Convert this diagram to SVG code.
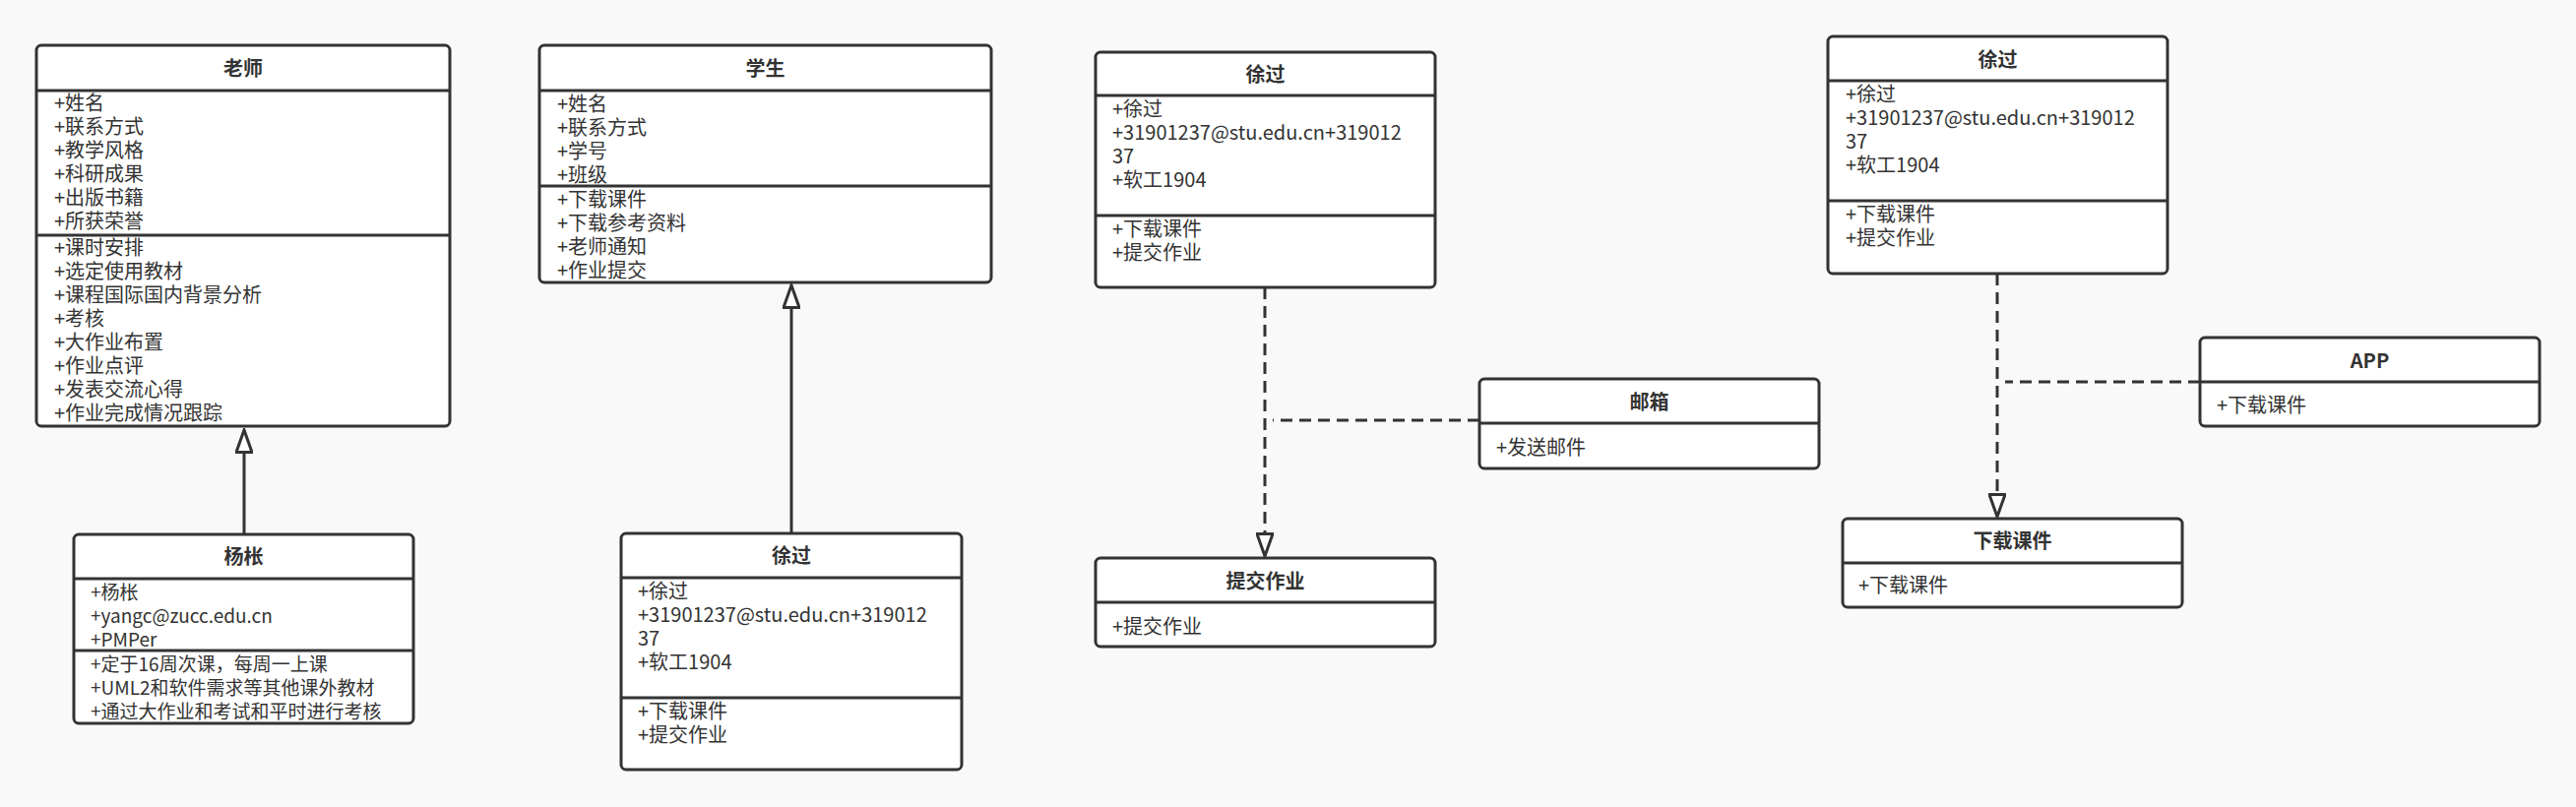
<svg xmlns="http://www.w3.org/2000/svg" width="2617" height="820" viewBox="0 0 2617 820">
<defs>
<style>
.box{fill:#ffffff;stroke:#333333;stroke-width:3}
.div{stroke:#333333;stroke-width:3;fill:none}
.t{font-family:"Noto Sans CJK SC","Noto Sans",sans-serif;font-size:20px;fill:#333333}
.s{font-size:19px}
.h{font-family:"Noto Sans CJK SC","Noto Sans",sans-serif;font-size:20px;font-weight:bold;fill:#333333;text-anchor:middle}
.edge{stroke:#333333;stroke-width:3;fill:none}
.dash{stroke-dasharray:12 7}
</style>
<marker id="tri" viewBox="0 0 26 18" refX="24" refY="9" markerWidth="26" markerHeight="18" markerUnits="userSpaceOnUse" orient="auto">
<path d="M1.5,1 L24,9 L1.5,17 Z" fill="#ffffff" stroke="#333333" stroke-width="3" stroke-linejoin="miter"/>
</marker>
</defs>
<rect x="0" y="0" width="2617" height="820" fill="#f9f9f9"/>

<g id="connectors">
<path class="edge" d="M248,543 L248,437" marker-end="url(#tri)"/>
<path class="edge" d="M804,542 L804,290" marker-end="url(#tri)"/>
<path class="edge dash" d="M1285,292 L1285,565" marker-end="url(#tri)"/>
<path class="edge dash" d="M1503,427 L1293,427"/>
<path class="edge dash" d="M2029,278 L2029,525" marker-end="url(#tri)"/>
<path class="edge dash" d="M2235,388 L2037,388"/>
</g>

<g id="teacher">
<rect class="box" x="37" y="46" width="420" height="387" rx="5"/>
<line class="div" x1="37" y1="92" x2="457" y2="92"/>
<line class="div" x1="37" y1="239" x2="457" y2="239"/>
<text class="h" x="247" y="77">老师</text>
<text class="t" x="55" y="112">+姓名</text>
<text class="t" x="55" y="136">+联系方式</text>
<text class="t" x="55" y="160">+教学风格</text>
<text class="t" x="55" y="184">+科研成果</text>
<text class="t" x="55" y="208">+出版书籍</text>
<text class="t" x="55" y="232">+所获荣誉</text>
<text class="t" x="55" y="259">+课时安排</text>
<text class="t" x="55" y="283">+选定使用教材</text>
<text class="t" x="55" y="307">+课程国际国内背景分析</text>
<text class="t" x="55" y="331">+考核</text>
<text class="t" x="55" y="355">+大作业布置</text>
<text class="t" x="55" y="379">+作业点评</text>
<text class="t" x="55" y="403">+发表交流心得</text>
<text class="t" x="55" y="427">+作业完成情况跟踪</text>
</g>

<g id="yangcheng">
<rect class="box" x="75" y="543" width="345" height="192" rx="5"/>
<line class="div" x1="75" y1="588" x2="420" y2="588"/>
<line class="div" x1="75" y1="661" x2="420" y2="661"/>
<text class="h" x="247.5" y="573">杨枨</text>
<text class="t s" x="92" y="609">+杨枨</text>
<text class="t s" x="92" y="633">+yangc@zucc.edu.cn</text>
<text class="t s" x="92" y="656.5">+PMPer</text>
<text class="t s" x="92" y="682">+定于16周次课，每周一上课</text>
<text class="t s" x="92" y="706">+UML2和软件需求等其他课外教材</text>
<text class="t s" x="92" y="730">+通过大作业和考试和平时进行考核</text>
</g>

<g id="student">
<rect class="box" x="548" y="46" width="459" height="241" rx="5"/>
<line class="div" x1="548" y1="92" x2="1007" y2="92"/>
<line class="div" x1="548" y1="189" x2="1007" y2="189"/>
<text class="h" x="777.5" y="77">学生</text>
<text class="t" x="566" y="113">+姓名</text>
<text class="t" x="566" y="137">+联系方式</text>
<text class="t" x="566" y="161">+学号</text>
<text class="t" x="566" y="185">+班级</text>
<text class="t" x="566" y="210">+下载课件</text>
<text class="t" x="566" y="234">+下载参考资料</text>
<text class="t" x="566" y="258">+老师通知</text>
<text class="t" x="566" y="282">+作业提交</text>
</g>

<g id="xuguo1">
<rect class="box" x="631" y="542" width="346" height="240" rx="5"/>
<line class="div" x1="631" y1="587" x2="977" y2="587"/>
<line class="div" x1="631" y1="709" x2="977" y2="709"/>
<text class="h" x="804" y="572">徐过</text>
<text class="t" x="648" y="608">+徐过</text>
<text class="t" x="648" y="632">+31901237@stu.edu.cn+319012</text>
<text class="t" x="648" y="656">37</text>
<text class="t" x="648" y="680">+软工1904</text>
<text class="t" x="648" y="730">+下载课件</text>
<text class="t" x="648" y="754">+提交作业</text>
</g>

<g id="xuguo2">
<rect class="box" x="1113" y="53" width="345" height="239" rx="5"/>
<line class="div" x1="1113" y1="97" x2="1458" y2="97"/>
<line class="div" x1="1113" y1="219" x2="1458" y2="219"/>
<text class="h" x="1285.5" y="83">徐过</text>
<text class="t" x="1130" y="118">+徐过</text>
<text class="t" x="1130" y="142">+31901237@stu.edu.cn+319012</text>
<text class="t" x="1130" y="166">37</text>
<text class="t" x="1130" y="190">+软工1904</text>
<text class="t" x="1130" y="240">+下载课件</text>
<text class="t" x="1130" y="264">+提交作业</text>
</g>

<g id="submit">
<rect class="box" x="1113" y="567" width="345" height="90" rx="5"/>
<line class="div" x1="1113" y1="612" x2="1458" y2="612"/>
<text class="h" x="1285.5" y="598">提交作业</text>
<text class="t" x="1130" y="644">+提交作业</text>
</g>

<g id="mailbox">
<rect class="box" x="1503" y="385" width="345" height="91" rx="5"/>
<line class="div" x1="1503" y1="430" x2="1848" y2="430"/>
<text class="h" x="1675.5" y="416">邮箱</text>
<text class="t" x="1520" y="462">+发送邮件</text>
</g>

<g id="xuguo3">
<rect class="box" x="1857" y="37" width="345" height="241" rx="5"/>
<line class="div" x1="1857" y1="82" x2="2202" y2="82"/>
<line class="div" x1="1857" y1="204" x2="2202" y2="204"/>
<text class="h" x="2029.5" y="68">徐过</text>
<text class="t" x="1875" y="103">+徐过</text>
<text class="t" x="1875" y="127">+31901237@stu.edu.cn+319012</text>
<text class="t" x="1875" y="151">37</text>
<text class="t" x="1875" y="175">+软工1904</text>
<text class="t" x="1875" y="225">+下载课件</text>
<text class="t" x="1875" y="249">+提交作业</text>
</g>

<g id="app">
<rect class="box" x="2235" y="343" width="345" height="90" rx="5"/>
<line class="div" x1="2235" y1="388" x2="2580" y2="388"/>
<text class="h" x="2407.5" y="374">APP</text>
<text class="t" x="2252" y="419">+下载课件</text>
</g>

<g id="download">
<rect class="box" x="1872" y="527" width="345" height="90" rx="5"/>
<line class="div" x1="1872" y1="572" x2="2217" y2="572"/>
<text class="h" x="2044.5" y="557">下载课件</text>
<text class="t" x="1888" y="602">+下载课件</text>
</g>
</svg>
